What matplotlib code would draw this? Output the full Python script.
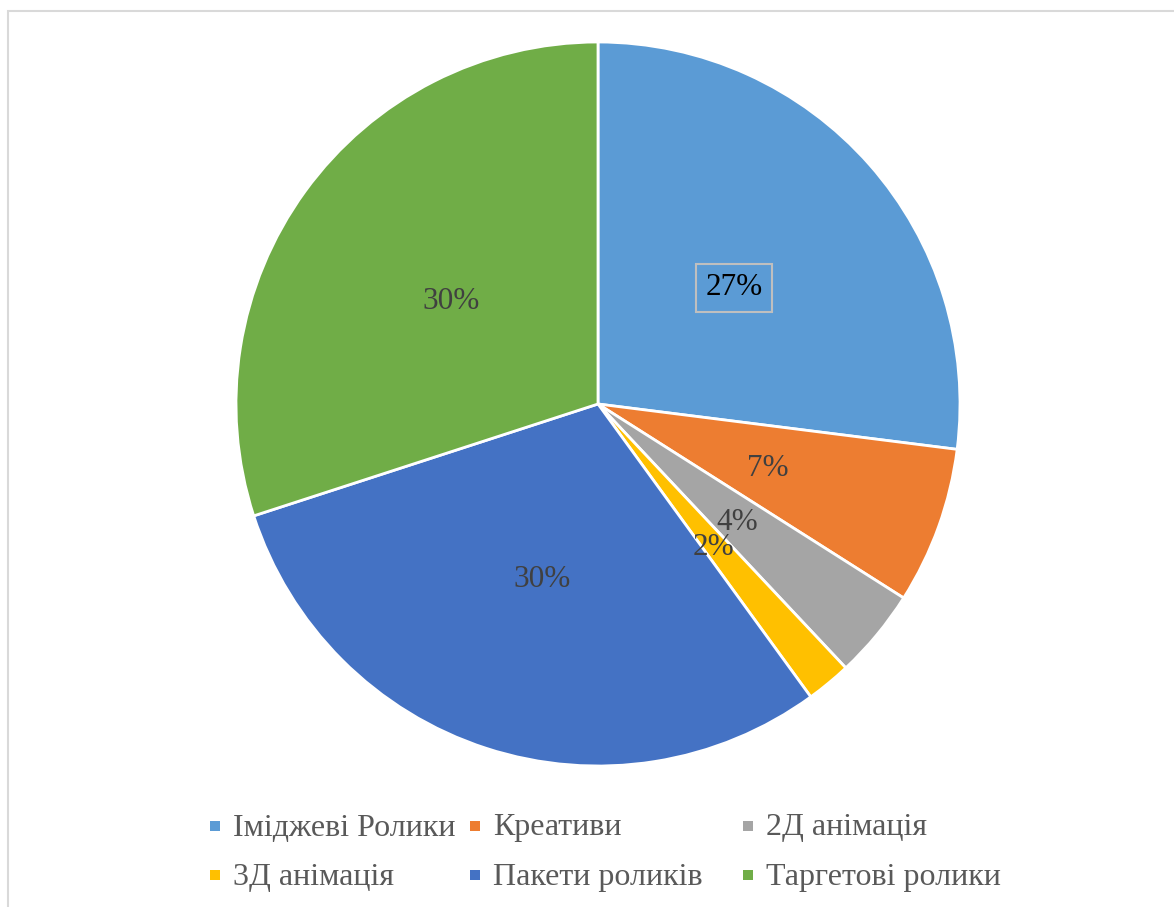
import matplotlib
matplotlib.use("Agg")
import matplotlib.pyplot as plt
from matplotlib.patches import Rectangle

categories = ["Іміджеві Ролики", "Креативи", "2Д анімація",
              "3Д анімація", "Пакети роликів", "Таргетові ролики"]
shares = [27, 7, 4, 2, 30, 30]
colors = ["#5B9BD5", "#ED7D31", "#A5A5A5", "#FFC000", "#4472C4", "#70AD47"]

plt.rcParams["font.family"] = ["Liberation Serif", "DejaVu Serif"]

W, H = 1174, 907
fig = plt.figure(figsize=(W / 100, H / 100), dpi=100)

# outer chart frame (light grey, left and top edges visible)
fig.add_artist(Rectangle((8 / W, -0.01), 1.2, 1 - 11 / H + 0.01,
                         transform=fig.transFigure, fill=False,
                         edgecolor="#D9D9D9", linewidth=1.5))

cx, cy, r = 598, 404, 362
ax = fig.add_axes([(cx - r) / W, (H - cy - r) / H, 2 * r / W, 2 * r / H])
wedges, texts, autotexts = ax.pie(
    shares, colors=colors, startangle=90, counterclock=False,
    autopct="%d%%", pctdistance=0.5,
    wedgeprops=dict(edgecolor="white", linewidth=2),
    textprops=dict(fontsize=22.5, color="#404040"),
)
ax.set_xlim(-1, 1)
ax.set_ylim(-1, 1)
ax.set_aspect("equal")
ax.axis("off")

for t in autotexts:
    x, y = t.get_position()
    t.set_position((x, y - 0.01))

autotexts[0].set_color("black")
autotexts[0].set_bbox(dict(facecolor="none", edgecolor="#BFBFBF",
                           linewidth=1.5, boxstyle="square,pad=0.3"))

# legend, 3 columns x 2 rows
col_x = [215, 475, 748]
row_y = [826, 875]
for i, (name, c) in enumerate(zip(categories, colors)):
    x = col_x[i % 3]
    y = row_y[i // 3]
    fig.add_artist(Rectangle(((x - 5) / W, (H - y - 5) / H), 10 / W, 10 / H,
                             transform=fig.transFigure, facecolor=c,
                             edgecolor="none"))
    fig.text((x + 18) / W, (H - y - 2) / H, name, fontsize=23,
             color="#595959", va="center", ha="left")

fig.savefig("out.png", dpi=100, facecolor="white")
